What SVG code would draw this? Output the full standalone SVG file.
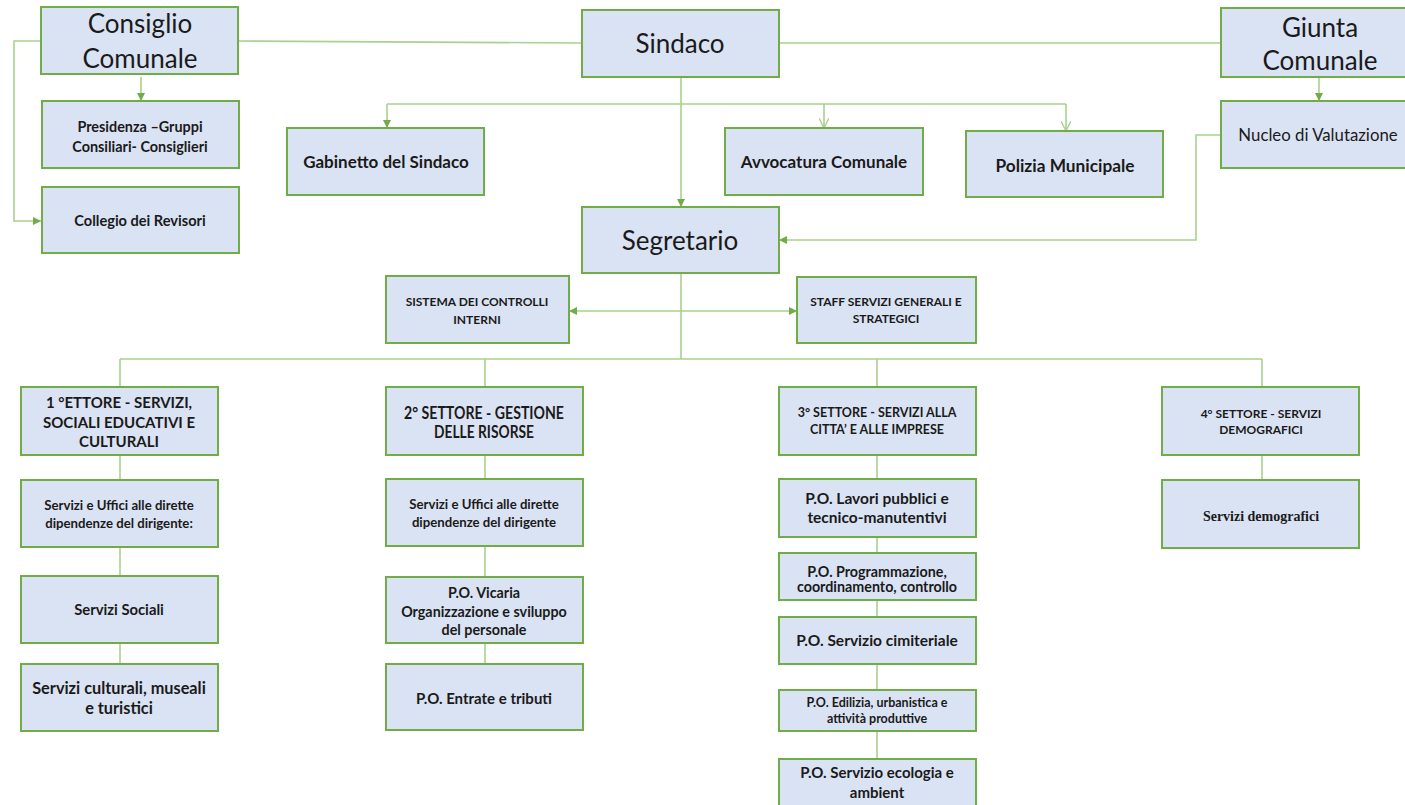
<svg xmlns="http://www.w3.org/2000/svg" width="1405" height="805" viewBox="0 0 1405 805">
<style>
.box{fill:#dae3f3;stroke:#70ad47;stroke-width:2}
.ln{fill:none;stroke:#a9d18e;stroke-width:1.6}
.t{font-family:Lato,"Liberation Sans",sans-serif;fill:#1a1a1a;text-anchor:middle}
.b{font-weight:700}
.big{font-size:26px}
.ser{font-family:"Liberation Serif",serif;font-weight:700;fill:#1a1a1a;text-anchor:middle}
</style>
<defs>
<marker id="af" viewBox="0 0 10 10" refX="10" refY="5" markerWidth="8" markerHeight="8" markerUnits="userSpaceOnUse" orient="auto-start-reverse">
<path d="M0,0 L10,5 L0,10 Z" fill="#70ad47"/>
</marker>
<marker id="ao" viewBox="0 0 10 10" refX="10" refY="5" markerWidth="10" markerHeight="10" markerUnits="userSpaceOnUse" orient="auto">
<path d="M0,0 L10,5 L0,10" fill="none" stroke="#a9d18e" stroke-width="1.4"/>
</marker>
</defs>
<rect width="1405" height="805" fill="#ffffff"/>
<g id="connectors">
<path class="ln" d="M41,41 H14 V221 H41" marker-end="url(#af)"/>
<path class="ln" d="M141,77 V101" marker-end="url(#af)"/>
<path class="ln" d="M238,41 L582,43"/>
<path class="ln" d="M779,43 H1221"/>
<path class="ln" d="M681,77 V207" marker-end="url(#af)"/>
<path class="ln" d="M387,104 H1066"/>
<path class="ln" d="M387,104 V128" marker-end="url(#af)"/>
<path class="ln" d="M824,104 V128" marker-end="url(#ao)"/>
<path class="ln" d="M1066,104 V131" marker-end="url(#ao)"/>
<path class="ln" d="M1319,77 V101" marker-end="url(#af)"/>
<path class="ln" d="M1221,135 H1196 V240 H779" marker-end="url(#af)"/>
<path class="ln" d="M681,273 V359"/>
<path class="ln" d="M569,311 H797" marker-start="url(#af)" marker-end="url(#af)"/>
<path class="ln" d="M120,359 H1262"/>
<path class="ln" d="M120,359 V664"/>
<path class="ln" d="M485,359 V664"/>
<path class="ln" d="M877,359 V759"/>
<path class="ln" d="M1262,359 V480"/>
</g>
<g id="consiglio"><rect class="box" x="41" y="7" width="197" height="67"/><text class="t big" x="140" y="33">Consiglio</text><text class="t big" x="140" y="68">Comunale</text></g>
<g id="presidenza"><rect class="box" x="42" y="101" width="197" height="67"/><text class="t b" font-size="14.4" x="140" y="132">Presidenza –Gruppi</text><text class="t b" font-size="14.4" x="140" y="152">Consiliari- Consiglieri</text></g>
<g id="collegio"><rect class="box" x="42" y="187" width="197" height="66"/><text class="t b" font-size="14.6" x="140" y="226">Collegio dei Revisori</text></g>
<g id="sindaco"><rect class="box" x="582" y="10" width="197" height="67"/><text class="t big" x="680" y="53">Sindaco</text></g>
<g id="gabinetto"><rect class="box" x="287" y="128" width="197" height="67"/><text class="t b" font-size="17" x="386" y="168">Gabinetto del Sindaco</text></g>
<g id="avvocatura"><rect class="box" x="725" y="128" width="198" height="67"/><text class="t b" font-size="17" x="824" y="168">Avvocatura Comunale</text></g>
<g id="polizia"><rect class="box" x="966" y="131" width="197" height="66"/><text class="t b" font-size="17.3" x="1065" y="172">Polizia Municipale</text></g>
<g id="giunta"><rect class="box" x="1221" y="8" width="197" height="69"/><text class="t big" x="1320" y="37">Giunta</text><text class="t big" x="1320" y="70">Comunale</text></g>
<g id="nucleo"><rect class="box" x="1221" y="101" width="197" height="67"/><text class="t" font-size="16.8" x="1318" y="141">Nucleo di Valutazione</text></g>
<g id="segretario"><rect class="box" x="582" y="207" width="197" height="66"/><text class="t big" x="680" y="250">Segretario</text></g>
<g id="sistema"><rect class="box" x="386" y="276" width="183" height="67"/><text class="t b" font-size="12" x="477" y="306">SISTEMA DEI CONTROLLI</text><text class="t b" font-size="12" x="477" y="324">INTERNI</text></g>
<g id="staff"><rect class="box" x="797" y="277" width="179" height="66"/><text class="t b" font-size="12" x="886" y="306">STAFF SERVIZI GENERALI E</text><text class="t b" font-size="12" x="886" y="323">STRATEGICI</text></g>
<g id="settore1"><rect class="box" x="21" y="387" width="197" height="68"/><text class="t b" font-size="15" x="119" y="408">1 °ETTORE - SERVIZI,</text><text class="t b" font-size="15" x="119" y="428">SOCIALI EDUCATIVI E</text><text class="t b" font-size="15" x="119" y="447">CULTURALI</text></g>
<g id="settore2"><rect class="box" x="386" y="387" width="197" height="68"/><text class="t b" font-size="16.5" x="484" y="419" textLength="160" lengthAdjust="spacingAndGlyphs">2° SETTORE - GESTIONE</text><text class="t b" font-size="16.5" x="484" y="438" textLength="100" lengthAdjust="spacingAndGlyphs">DELLE RISORSE</text></g>
<g id="settore3"><rect class="box" x="779" y="387" width="197" height="68"/><text class="t b" font-size="12.5" x="877" y="417">3° SETTORE - SERVIZI ALLA</text><text class="t b" font-size="12.5" x="877" y="434">CITTA’ E ALLE IMPRESE</text></g>
<g id="settore4"><rect class="box" x="1162" y="387" width="197" height="68"/><text class="t b" font-size="12" x="1261" y="418">4° SETTORE - SERVIZI</text><text class="t b" font-size="12" x="1261" y="434">DEMOGRAFICI</text></g>
<g id="s1-uffici"><rect class="box" x="21" y="480" width="197" height="67"/><text class="t b" font-size="13.2" x="119" y="510">Servizi e Uffici alle dirette</text><text class="t b" font-size="13.2" x="119" y="528">dipendenze del dirigente:</text></g>
<g id="s1-sociali"><rect class="box" x="21" y="576" width="197" height="67"/><text class="t b" font-size="14.8" x="119" y="615">Servizi Sociali</text></g>
<g id="s1-culturali"><rect class="box" x="21" y="664" width="197" height="67"/><text class="t b" font-size="16.3" x="119" y="694">Servizi culturali, museali</text><text class="t b" font-size="16.3" x="119" y="714">e turistici</text></g>
<g id="s2-uffici"><rect class="box" x="386" y="479" width="197" height="67"/><text class="t b" font-size="13.2" x="484" y="508.5">Servizi e Uffici alle dirette</text><text class="t b" font-size="13.2" x="484" y="527">dipendenze del dirigente</text></g>
<g id="s2-vicaria"><rect class="box" x="386" y="577" width="197" height="66"/><text class="t b" font-size="14.3" x="484" y="598">P.O. Vicaria</text><text class="t b" font-size="14.3" x="484" y="617">Organizzazione  e sviluppo</text><text class="t b" font-size="14.3" x="484" y="635">del personale</text></g>
<g id="s2-entrate"><rect class="box" x="386" y="664" width="197" height="66"/><text class="t b" font-size="15" x="484" y="704">P.O. Entrate e tributi</text></g>
<g id="s3-lavori"><rect class="box" x="779" y="479" width="197" height="58"/><text class="t b" font-size="15.5" x="877" y="504">P.O. Lavori pubblici e</text><text class="t b" font-size="15.5" x="877" y="523">tecnico-manutentivi</text></g>
<g id="s3-programmazione"><rect class="box" x="779" y="553" width="197" height="47"/><text class="t b" font-size="14.3" x="877" y="576.5">P.O. Programmazione,</text><text class="t b" font-size="14.3" x="877" y="592">coordinamento, controllo</text></g>
<g id="s3-cimiteriale"><rect class="box" x="779" y="617" width="197" height="47"/><text class="t b" font-size="15.5" x="877" y="646">P.O. Servizio cimiteriale</text></g>
<g id="s3-edilizia"><rect class="box" x="779" y="690" width="197" height="41"/><text class="t b" font-size="12.5" x="877" y="707">P.O. Edilizia, urbanistica e</text><text class="t b" font-size="12.5" x="877" y="723">attività produttive</text></g>
<g id="s3-ecologia"><rect class="box" x="779" y="759" width="197" height="52"/><text class="t b" font-size="15" x="877" y="778">P.O. Servizio ecologia e</text><text class="t b" font-size="15" x="877" y="798">ambient</text></g>
<g id="s4-demografici"><rect class="box" x="1162" y="480" width="197" height="68"/><text class="ser" font-size="14" x="1261" y="521">Servizi demografici</text></g>
</svg>
